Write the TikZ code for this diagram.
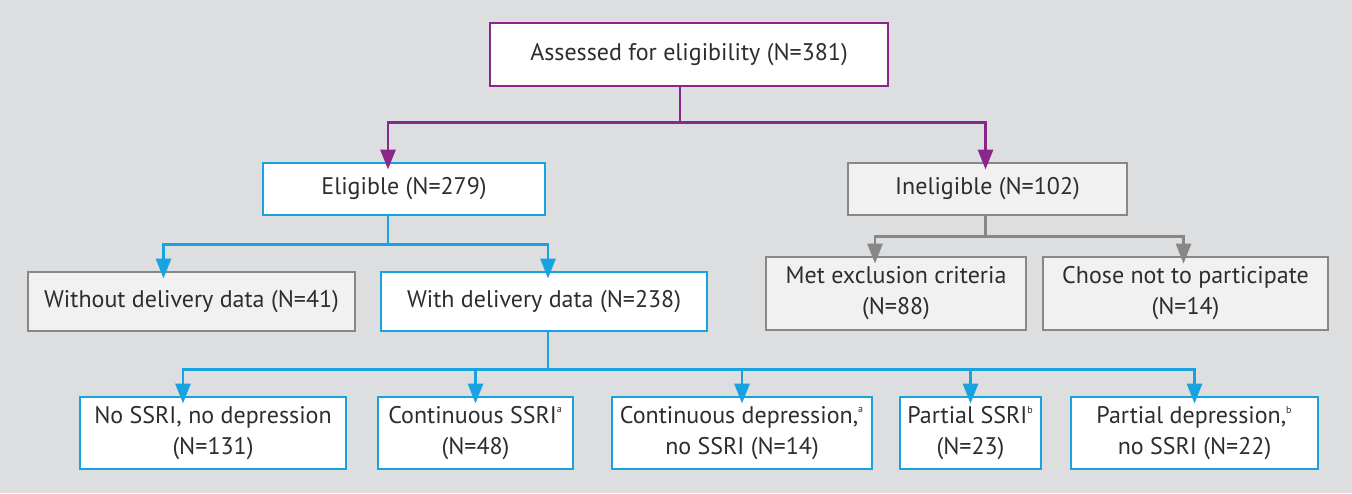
\documentclass[tikz,border=0pt]{standalone}
\usepackage{fontspec}
\setmainfont{PT Sans}
\usetikzlibrary{arrows.meta,positioning,calc}

\definecolor{bgGray}{RGB}{220,222,224}
\definecolor{purpLine}{RGB}{139,38,139}
\definecolor{cyanLine}{RGB}{24,162,224}
\definecolor{grayLine}{RGB}{135,135,135}
\definecolor{grayFill}{RGB}{241,241,241}
\definecolor{txtGray}{RGB}{45,45,45}

\tikzset{
  box/.style={draw, line width=1.45pt, fill=white, text=txtGray, align=center,
    inner sep=0pt, font=\fontsize{12}{15.5}\selectfont},
  purpbox/.style={box, draw=purpLine},
  cyanbox/.style={box, draw=cyanLine},
  graybox/.style={box, draw=grayLine, fill=grayFill},
  link/.style={line width=1.45pt, -{Triangle[width=7.5pt,length=10pt]}, shorten >=-4pt},
}
\newcommand{\supa}[1]{\raisebox{1pt}{\textsuperscript{\tiny #1}}}

\begin{document}
\begin{tikzpicture}[x=0.5pt, y=-0.5pt]
			\fill[bgGray] (0,0) rectangle (1352,493);
			\useasboundingbox (0,0) rectangle (1352,493);

			% Assessed
			\node[purpbox, minimum width=199pt, minimum height=31.5pt] (assess) at (689,54.5) {Assessed for eligibility (N=381)};

			% Eligible / ineligible
			\node[cyanbox, minimum width=141pt, minimum height=26pt] (elig) at (404,189) {Eligible (N=279)};
			\node[graybox, minimum width=139.5pt, minimum height=26pt] (inelig) at (987.5,189) {Ineligible (N=102)};

			% Delivery data
			\node[graybox, minimum width=163.5pt, minimum height=29.5pt] (without) at (191.5,301.5) {Without delivery data (N=41)};
			\node[cyanbox, minimum width=163pt, minimum height=29.5pt] (with) at (544,301.5) {With delivery data (N=238)};

			% Ineligible reasons
			\node[graybox, minimum width=130pt, minimum height=36.5pt] (met) at (896,293.5) {Met exclusion criteria\\(N=88)};
			\node[graybox, minimum width=142.5pt, minimum height=36.5pt] (chose) at (1185.5,293.5) {Chose not to participate\\(N=14)};

			% Exposure groups
			\node[cyanbox, minimum width=133pt, minimum height=36pt] (nossri) at (213,433) {No SSRI, no depression\\(N=131)};
			\node[cyanbox, minimum width=97.5pt, minimum height=36pt] (contssri) at (475.5,433) {Continuous SSRI\supa{a}\\(N=48)};
			\node[cyanbox, minimum width=130pt, minimum height=36pt] (contdep) at (742,433) {Continuous depression,\supa{a}\\no SSRI (N=14)};
			\node[cyanbox, minimum width=70.5pt, minimum height=36pt] (partssri) at (970.5,433) {Partial SSRI\supa{b}\\(N=23)};
			\node[cyanbox, minimum width=123.5pt, minimum height=36pt] (partdep) at (1194.5,433) {Partial depression,\supa{b}\\no SSRI (N=22)};

			% Connectors
			\draw[link, purpLine] ([xshift=-4.5pt]assess.south) -- ++(0,35) -| ([xshift=-8pt]elig.north);
			\draw[link, purpLine] ([xshift=-4.5pt]assess.south) -- ++(0,35) -| ([xshift=-1pt]inelig.north);

			\draw[link, cyanLine] ([xshift=-8pt]elig.south) -- ++(0,28) -| ([xshift=-14pt]without.north);
			\draw[link, cyanLine] ([xshift=-8pt]elig.south) -- ++(0,28) -| ([xshift=2pt]with.north);

			\draw[link, grayLine] ([xshift=-1pt]inelig.south) -- ++(0,20) -| ([xshift=-10.5pt]met.north);
			\draw[link, grayLine] ([xshift=-1pt]inelig.south) -- ++(0,20) -| ([xshift=-1pt]chose.north);

			\draw[link, cyanLine] ([xshift=2pt]with.south) -- ++(0,37) -| ([xshift=-15pt]nossri.north);
			\foreach \grp in {contssri,contdep,partssri,partdep}
				\draw[link, cyanLine] ([xshift=2pt]with.south) -- ++(0,37) -| (\grp.north);
		\end{tikzpicture}
\end{document}
